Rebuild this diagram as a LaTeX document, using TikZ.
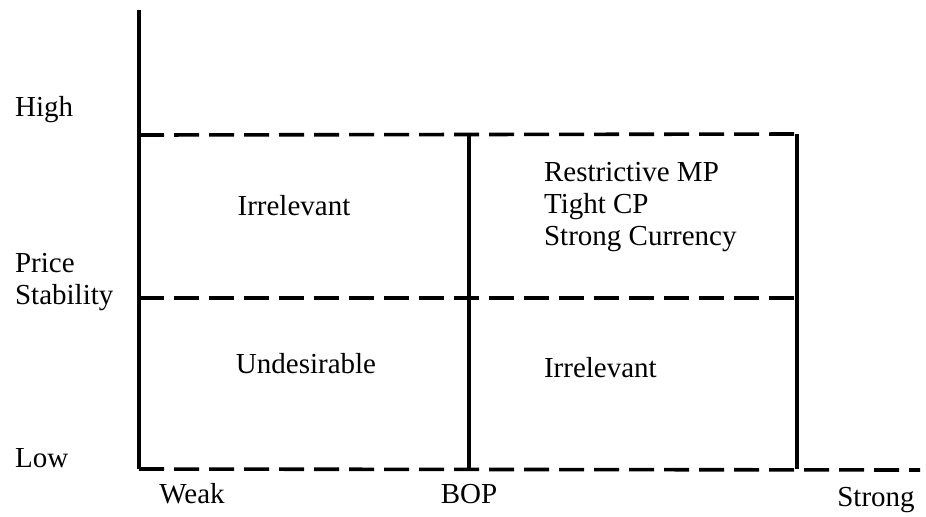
\documentclass[tikz,border=0pt]{standalone}
\usepackage{fontspec}
\setmainfont{Liberation Serif}
\usepackage{tikz}

\begin{document}
\begin{tikzpicture}[x=0.5pt,y=-0.5pt,every node/.style={font=\fontsize{14.5}{16}\selectfont},
  grid/.style={line width=1.8pt,dash pattern=on 12.5pt off 5pt},
  wall/.style={line width=1.8pt}]
\useasboundingbox (0,0) rectangle (926,516);
\coordinate (T) at (139,10);
\coordinate (O) at (139,469);
\coordinate (A) at (139,135);
\coordinate (M) at (139,298);
\coordinate (B1) at (469,136);
\coordinate (B2) at (469,298);
\coordinate (B3) at (469,469);
\coordinate (R1) at (797,134);
\coordinate (R2) at (797,298);
\coordinate (R3) at (797,469);
\coordinate (E) at (920,470);

\node[anchor=west] (high) at (8,110) {High};
\node[anchor=west,align=left] (price) at (8,282) {Price\\Stability};
\node[anchor=west] (low) at (8,458) {Low};
\node (weak) at (192,494) {Weak};
\node (bop) at (469,494) {BOP};
\node (strong) at (876,500) {Strong};

\node (irr1) at (294,206) {Irrelevant};
\node[anchor=west,align=left] (policy) at (537,207) {Restrictive MP\\Tight CP\\Strong Currency};
\node (undes) at (306,364) {Undesirable};
\node[anchor=west] (irr2) at (537,368) {Irrelevant};

\draw[wall] (T) -- (O);
\draw[wall] (B1) -- (B3);
\draw[wall] (R1) -- (R3);
\draw[grid] (A) -- (R1);
\draw[grid] (M) -- (R2);
\draw[grid] (O) -- (E);
\end{tikzpicture}
\end{document}
